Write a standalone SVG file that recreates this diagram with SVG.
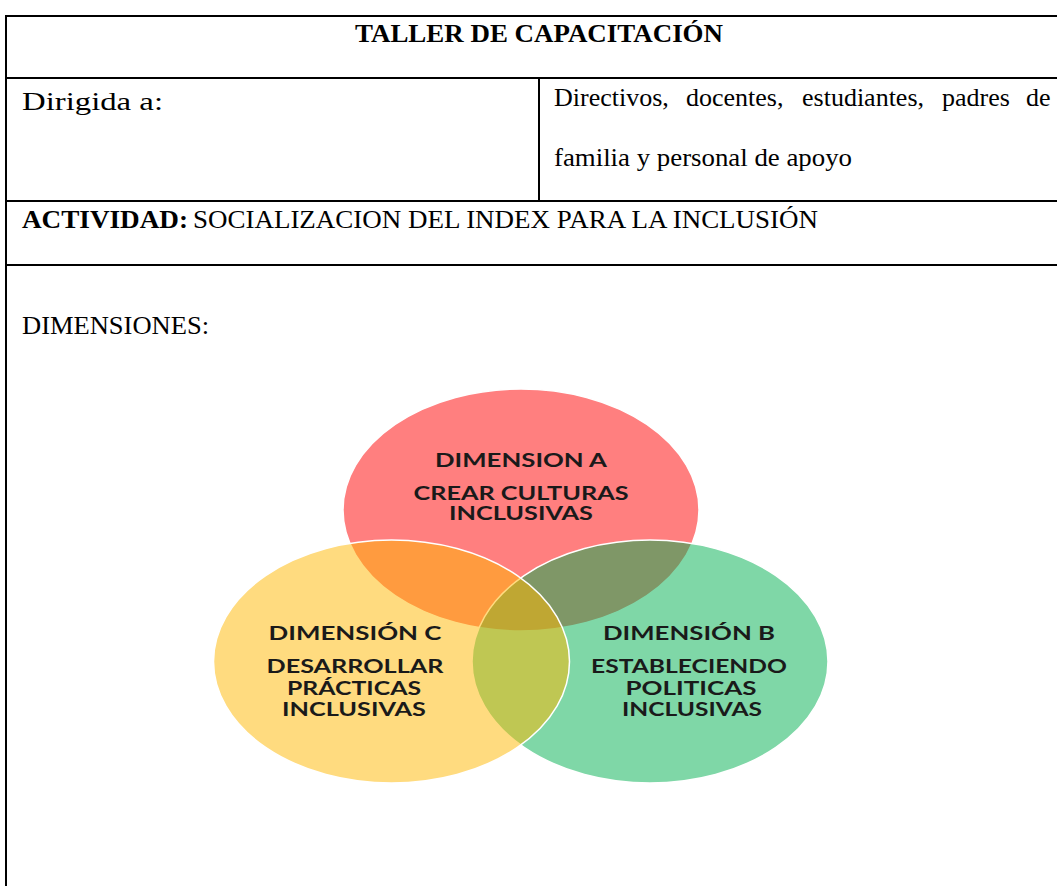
<svg xmlns="http://www.w3.org/2000/svg" width="1057" height="886" viewBox="0 0 1057 886">
<style>
.tb{stroke:#000;stroke-width:2;fill:none}
.serif{font-family:"Liberation Serif","Times New Roman",serif;fill:#000;font-size:26px}
.b{font-weight:bold}
.vt{font-family:Lato,"Open Sans",sans-serif;font-weight:bold;font-size:18.5px;fill:#1a1a1a;text-anchor:middle}
.ell{stroke:#fff;stroke-width:1.5;fill-opacity:0.5}
</style>
<rect width="1057" height="886" fill="#fff"/>
<g id="table">
<line class="tb" x1="5" y1="16" x2="1057" y2="16"/>
<line class="tb" x1="6" y1="15" x2="6" y2="886"/>
<line class="tb" x1="5" y1="78" x2="1057" y2="78"/>
<line class="tb" x1="5" y1="201" x2="1057" y2="201"/>
<line class="tb" x1="5" y1="265" x2="1057" y2="265"/>
<line class="tb" x1="539" y1="78" x2="539" y2="201"/>
</g>
<g id="header">
<text class="serif b" x="355" y="42" textLength="368" lengthAdjust="spacingAndGlyphs">TALLER DE CAPACITACIÓN</text>
</g>
<g id="dirigida">
<text class="serif" x="22" y="110" font-size="32" textLength="141" lengthAdjust="spacingAndGlyphs">Dirigida a:</text>
</g>
<g id="destinatarios">
<text class="serif" x="554" y="106">Directivos,</text>
<text class="serif" x="686" y="106">docentes,</text>
<text class="serif" x="802" y="106">estudiantes,</text>
<text class="serif" x="942" y="106">padres</text>
<text class="serif" x="1026" y="106">de</text>
<text class="serif" x="554" y="166" textLength="298" lengthAdjust="spacingAndGlyphs">familia y personal de apoyo</text>
</g>
<g id="actividad">
<text class="serif b" x="22" y="228" textLength="166" lengthAdjust="spacingAndGlyphs">ACTIVIDAD:</text>
<text class="serif" x="193" y="228" textLength="625" lengthAdjust="spacingAndGlyphs">SOCIALIZACION DEL INDEX PARA LA INCLUSIÓN</text>
</g>
<g id="dimensiones">
<text class="serif" x="22" y="334" textLength="187" lengthAdjust="spacingAndGlyphs">DIMENSIONES:</text>
</g>
<g id="venn">
<g id="dim-a">
<ellipse class="ell" cx="521" cy="510" rx="178" ry="121" fill="#FF0000"/>
</g>
<g id="dim-b">
<ellipse class="ell" cx="650" cy="661.5" rx="178" ry="121.5" fill="#00B050"/>
</g>
<g id="dim-c">
<ellipse class="ell" cx="391.5" cy="661.5" rx="178" ry="121.5" fill="#FFB800"/>
</g>
<g id="labels">
<text class="vt" x="521" y="467" textLength="172" lengthAdjust="spacingAndGlyphs">DIMENSION A</text>
<text class="vt" x="521" y="500" textLength="215" lengthAdjust="spacingAndGlyphs">CREAR CULTURAS</text>
<text class="vt" x="521" y="520" textLength="144" lengthAdjust="spacingAndGlyphs">INCLUSIVAS</text>
<text class="vt" x="355" y="640" textLength="173" lengthAdjust="spacingAndGlyphs">DIMENSIÓN C</text>
<text class="vt" x="355" y="673" textLength="177" lengthAdjust="spacingAndGlyphs">DESARROLLAR</text>
<text class="vt" x="354" y="695" textLength="134" lengthAdjust="spacingAndGlyphs">PRÁCTICAS</text>
<text class="vt" x="354" y="716" textLength="144" lengthAdjust="spacingAndGlyphs">INCLUSIVAS</text>
<text class="vt" x="689" y="640" textLength="172" lengthAdjust="spacingAndGlyphs">DIMENSIÓN B</text>
<text class="vt" x="689" y="673" textLength="196" lengthAdjust="spacingAndGlyphs">ESTABLECIENDO</text>
<text class="vt" x="691" y="695" textLength="131" lengthAdjust="spacingAndGlyphs">POLITICAS</text>
<text class="vt" x="692" y="716" textLength="140" lengthAdjust="spacingAndGlyphs">INCLUSIVAS</text>
</g>
</g>
</svg>
